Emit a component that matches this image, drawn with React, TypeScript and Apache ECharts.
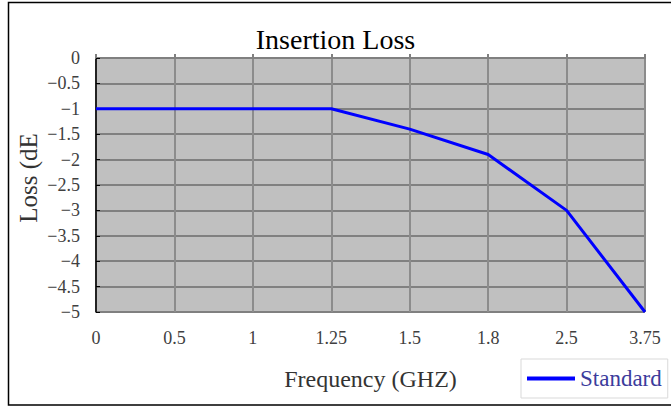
import React, { useEffect, useRef } from "react";
import * as echarts from "echarts";

const categories = ["0", "0.5", "1", "1.25", "1.5", "1.8", "2.5", "3.75"];
const standardLoss = [-1, -1, -1, -1, -1.4, -1.9, -3, -5];
const seriesName = "Standard";
const titleText = "Insertion Loss";
const xAxisName = "Frequency (GHZ)";
const yAxisName = "Loss (dE";

const serif = "'Liberation Serif', 'DejaVu Serif', serif";

export default function App() {
  const ref = useRef<HTMLDivElement>(null);
  useEffect(() => {
    if (!ref.current) return;
    const chart = echarts.init(ref.current, undefined, { renderer: "svg" });
    chart.setOption({
      animation: false,
      backgroundColor: "#ffffff",
      title: {
        text: titleText,
        left: "center",
        top: 20,
        textStyle: { fontFamily: serif, fontSize: 28, fontWeight: "normal", color: "#000" },
      },
      grid: {
        left: 96,
        top: 58,
        right: 26,
        bottom: 95,
        show: true,
        backgroundColor: "#c0c0c0",
        borderWidth: 0,
      },
      legend: {
        data: [seriesName],
        left: 521,
        top: 359,
        orient: "horizontal",
        borderColor: "#d9d9d9",
        borderWidth: 1,
        padding: [8, 6, 8, 6],
        itemWidth: 48,
        itemHeight: 4,
        icon: "rect",
        itemGap: 6,
        textStyle: { fontFamily: serif, fontSize: 23, color: "#3c3c9c" },
      },
      xAxis: [
        {
          type: "category",
          data: categories,
          boundaryGap: false,
          position: "bottom",
          name: xAxisName,
          nameLocation: "middle",
          nameGap: 55,
          nameTextStyle: { fontFamily: serif, fontSize: 24, color: "#333" },
          axisLine: { show: true, lineStyle: { color: "#808080", width: 2 } },
          axisTick: { show: false },
          axisLabel: { fontFamily: serif, fontSize: 18, color: "#404040", margin: 17 },
          splitLine: { show: true, lineStyle: { color: "#8c8c8c", width: 2 } },
        },
        {
          type: "category",
          data: categories,
          boundaryGap: false,
          position: "top",
          axisLine: { show: true, lineStyle: { color: "#808080", width: 2 } },
          axisTick: { show: true, inside: false, length: 4, lineStyle: { color: "#808080", width: 2 } },
          axisLabel: { show: false },
          splitLine: { show: false },
        },
      ],
      yAxis: {
        type: "value",
        min: -5,
        max: 0,
        interval: 0.5,
        axisLine: { show: true, lineStyle: { color: "#000", width: 1.5 } },
        axisTick: { show: true, inside: true, length: 4, lineStyle: { color: "#000", width: 1 } },
        axisLabel: {
          fontFamily: serif,
          fontSize: 18,
          color: "#404040",
          margin: 16,
          formatter: (v: number) => (v < 0 ? "\u2212" + String(-v) : String(v)),
        },
        splitLine: { show: true, lineStyle: { color: "#808080", width: 2 } },
      },
      graphic: [
        {
          type: "rect",
          shape: { x: 8.5, y: 2.5, width: 700, height: 402.5 },
          style: { fill: "none", stroke: "#000", lineWidth: 1.5 },
          silent: true,
        },
        {
          type: "text",
          x: 28,
          y: 178,
          rotation: Math.PI / 2,
          style: {
            text: yAxisName,
            fontFamily: serif,
            fontSize: 25,
            fill: "#333",
            textAlign: "center",
            textVerticalAlign: "middle",
          },
        },
      ],
      series: [
        {
          name: seriesName,
          type: "line",
          data: standardLoss,
          symbol: "none",
          color: "#0000ff",
          lineStyle: { color: "#0000ff", width: 3 },
        },
      ],
    });
    return () => chart.dispose();
  }, []);
  return (
    <div
      ref={ref}
      style={{ position: "fixed", left: 0, top: 0, width: 671, height: 407 }}
    />
  );
}
